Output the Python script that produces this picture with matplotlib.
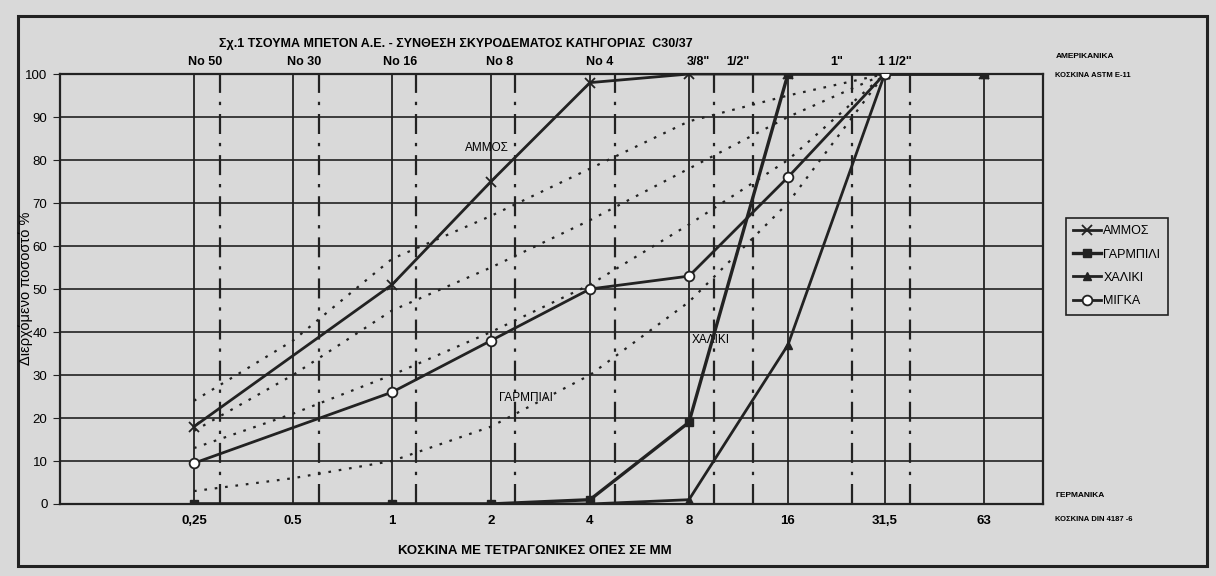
import matplotlib.pyplot as plt
from matplotlib.patches import Rectangle

plt.rcParams['font.family'] = ['Liberation Sans Narrow', 'Liberation Sans', 'DejaVu Sans']

# sieve openings (mm) and passing percentages
sieves_mm = [0.25, 1, 2, 4, 8, 16, 31.5, 63]
ammos = [18, 51, 75, 98, 100, 100, 100, 100]
garmpili = [0, 0, 0, 1, 19, 100, 100, 100]
xaliki = [0, 0, 0, 0, 1, 37, 100, 100]
migka = [9.5, 26, 38, 50, 53, 76, 100, 100]

# reference grading curves (dotted)
ref_sieves = [0.25, 0.5, 1, 2, 4, 8, 16, 31.5]
ref_1 = [24, 38, 57, 67, 78, 89, 95, 100]
ref_2 = [17, 30, 45, 55, 66, 78, 90, 100]
ref_3 = [13, 21, 30, 40, 51, 65, 80, 100]
ref_4 = [3, 6, 10, 18, 30, 47, 70, 100]

din_ticks = [0.25, 0.5, 1, 2, 4, 8, 16, 31.5, 63]
din_labels = ['0,25', '0.5', '1', '2', '4', '8', '16', '31,5', '63']
astm_sizes = [0.3, 0.6, 1.18, 2.36, 4.75, 9.5, 12.5, 25, 37.5]
astm_labels = ['No 50', 'No 30', 'No 16', 'No 8', 'No 4', '3/8"', '1/2"', '1"', '1 1/2"']

bg = '#d9d9d9'
ink = '#222222'

fig = plt.figure(figsize=(12.16, 5.76), dpi=100, facecolor=bg)
ax = fig.add_axes([0.0493, 0.125, 0.8084, 0.7465], facecolor=bg)
ax.set_xscale('log', base=2)
ax.set_xlim(0.0978, 95.4)
ax.set_ylim(0, 100)

# grid
for y in range(10, 100, 10):
    ax.axhline(y, color=ink, lw=1.2, zorder=1)
for x in din_ticks:
    ax.axvline(x, color=ink, lw=1.3, zorder=1)
for x in astm_sizes:
    ax.axvline(x, color=ink, lw=1.6, ls=(0, (9, 4, 1.5, 4)), zorder=1)

# reference curves
for ref in (ref_1, ref_2, ref_3, ref_4):
    ax.plot(ref_sieves, ref, ls=(0, (1.2, 3.5)), color=ink, lw=1.6, zorder=2)

ax.plot(sieves_mm, ammos, color=ink, lw=2, marker='x', ms=7, mew=1.3, label='ΑΜΜΟΣ', zorder=4)
ax.plot(sieves_mm, xaliki, color=ink, lw=2, marker='^', ms=6, label='ΧΑΛΙΚΙ', zorder=4)
ax.plot(sieves_mm, garmpili, color=ink, lw=2.4, marker='s', ms=5.5, label='ΓΑΡΜΠΙΛΙ', zorder=5)
ax.plot(sieves_mm, migka, color=ink, lw=2, marker='o', ms=7, mfc='white', mew=1.3,
        markevery=slice(0, 7), label='ΜΙΓΚΑ', zorder=6)

for s in ax.spines.values():
    s.set_color(ink)
    s.set_linewidth(1.6)

ax.set_yticks(range(0, 101, 10))
ax.tick_params(axis='y', length=5, color=ink, labelsize=9.5, pad=4)
ax.set_xticks(din_ticks)
ax.set_xticklabels(din_labels, fontweight='bold', fontsize=9.5)
ax.xaxis.set_minor_locator(plt.NullLocator())
ax.tick_params(axis='x', length=0, pad=8)

for x, lab in zip(astm_sizes, astm_labels):
    ax.text(x * 0.9, 101.5, lab, ha='center', va='bottom', fontsize=9, fontweight='bold')

ax.text(0.403, 1.055, 'Σχ.1 ΤΣΟΥΜΑ ΜΠΕΤΟΝ Α.Ε. - ΣΥΝΘΕΣΗ ΣΚΥΡΟΔΕΜΑΤΟΣ ΚΑΤΗΓΟΡΙΑΣ  C30/37',
        transform=ax.transAxes, ha='center', va='bottom', fontsize=9, fontweight='bold')
ax.text(0.483, -0.095, 'ΚΟΣΚΙΝΑ ΜΕ ΤΕΤΡΑΓΩΝΙΚΕΣ ΟΠΕΣ ΣΕ ΜΜ', transform=ax.transAxes,
        ha='center', va='top', fontsize=9.5, fontweight='bold')
fig.text(0.021, 0.5, 'Διερχόμενο ποσοστό %', rotation=90, ha='center', va='center',
         fontsize=10.5)

# curve names inside the chart
ax.text(1.95, 82, 'ΑΜΜΟΣ', fontsize=8.5, ha='center')
ax.text(2.55, 24, 'ΓΑΡΜΠΙΛΙ', fontsize=8.5, ha='center')
ax.text(9.3, 37.5, 'ΧΑΛΙΚΙ', fontsize=8.5, ha='center')

# sieve standard notes on the right
fig.text(0.868, 0.9, 'ΑΜΕΡΙΚΑΝΙΚΑ', fontsize=6, fontweight='bold')
fig.text(0.868, 0.867, 'ΚΟΣΚΙΝΑ ASTM E-11', fontsize=5.5, fontweight='bold')
fig.text(0.868, 0.137, 'ΓΕΡΜΑΝΙΚΑ', fontsize=6, fontweight='bold')
fig.text(0.868, 0.095, 'ΚΟΣΚΙΝΑ DIN 4187 -6', fontsize=5.5, fontweight='bold')

handles, labels = ax.get_legend_handles_labels()
order = [0, 2, 1, 3]
leg = ax.legend([handles[i] for i in order], [labels[i] for i in order],
                loc='upper left', bbox_to_anchor=(1.017, 0.68), frameon=True, fancybox=False,
                edgecolor=ink, facecolor=bg, framealpha=1, fontsize=9, handlelength=2.2,
                labelspacing=0.9, borderpad=0.6, handletextpad=0.2)
leg.get_frame().set_linewidth(1.2)

# page border
fig.patches.append(Rectangle((0.015, 0.017), 0.978, 0.955, transform=fig.transFigure,
                             fill=False, ec=ink, lw=2.2))

fig.savefig('out.png', dpi=100, facecolor=bg)
